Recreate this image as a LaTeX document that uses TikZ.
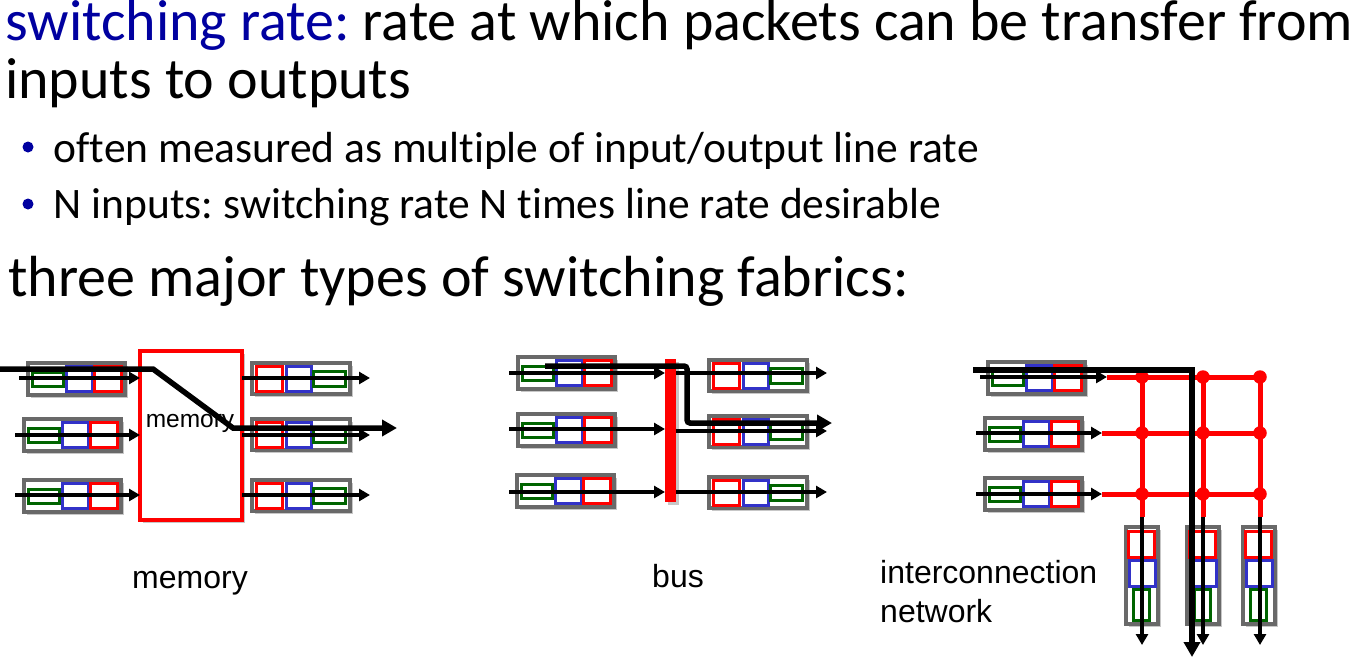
\documentclass[tikz,border=0pt]{standalone}
\usepackage{fontspec}
\setmainfont{Carlito}[Ligatures=CommonOff]
\newfontfamily\arialfont{Liberation Sans}
\usetikzlibrary{arrows.meta,shadows}
\frenchspacing

\definecolor{slideblue}{RGB}{0,0,160}
\definecolor{qgray}{RGB}{105,105,105}
\definecolor{cgreen}{RGB}{0,100,0}
\definecolor{cblue}{RGB}{50,50,200}
\definecolor{cred}{RGB}{255,0,0}

\tikzset{
  softshadow/.style={drop shadow={shadow xshift=2.5pt,shadow yshift=-2.5pt,opacity=0.22,fill=black}},
  qbox/.style={draw=qgray,line width=3.1pt,fill=white,inner sep=0pt,outer sep=0pt,softshadow},
  cellg/.style={draw=cgreen,line width=3pt},
  cellb/.style={draw=cblue,line width=3pt},
  cellr/.style={draw=cred,line width=3pt},
  flow/.style={line width=3.2pt,-{Triangle[length=11pt,width=12pt]}},
  bigflow/.style={line width=5.5pt,-{Triangle[length=15pt,width=16pt]}},
  gridline/.style={draw=cred,line width=5pt},
  joint/.style={circle,fill=cred,inner sep=0pt,minimum size=13.5pt},
  bigtext/.style={font=\fontsize{58}{60}\selectfont,inner sep=0pt,anchor=base west},
  subtext/.style={font=\fontsize{43.5}{46}\selectfont,inner sep=0pt,anchor=base west},
  lbl/.style={font=\arialfont\fontsize{32}{34}\selectfont,inner sep=0pt,anchor=base west},
  dot/.style={circle,fill=slideblue,inner sep=0pt,minimum size=11pt},
}

% input queue: green, blue, red cells (top-left corner given)
\newcommand\inqueue[3]{%
  \begin{scope}[shift={(#2,#3)}]
    \node[qbox,anchor=north west,minimum width=97pt,minimum height=32pt] (#1) at (0,0) {};
    \draw[cellg] (4,9) rectangle (35,23);
    \draw[cellb] (38,3) rectangle (64,28);
    \draw[cellr] (66,3) rectangle (93,28);
  \end{scope}}

% output queue: red, blue, green cells
\newcommand\outqueue[3]{%
  \begin{scope}[shift={(#2,#3)}]
    \node[qbox,anchor=north west,minimum width=98pt,minimum height=31pt] (#1) at (0,0) {};
    \draw[cellr] (4,3) rectangle (30,28);
    \draw[cellb] (34,3) rectangle (59,28);
    \draw[cellg] (61,8) rectangle (93,23);
  \end{scope}}

% vertical output queue of the crossbar
\newcommand\vqueue[3]{%
  \begin{scope}[shift={(#2,#3)}]
    \node[qbox,anchor=north west,minimum width=32pt,minimum height=97pt] (#1) at (0,0) {};
    \draw[cellr] (2,4) rectangle (28,30);
    \draw[cellb] (3,33) rectangle (29,59);
    \draw[cellg] (7,62) rectangle (23,93);
  \end{scope}}

\begin{document}
\begin{tikzpicture}[x=1pt,y=-1pt]
\useasboundingbox[fill=white] (0,0) rectangle (1368,661);

% ---- text ----
\node[bigtext] (t1) at (5,41) {\textcolor{slideblue}{switching rate:} rate at which packets can be transfer from};
\node[bigtext] (t2) at (5,99) {inputs to outputs};
\node[dot] (d1) at (28,147) {};
\node[subtext] (b1) at (53.5,162) {often measured as multiple of input/output line rate};
\node[dot] (d2) at (28,204) {};
\node[subtext] (b2) at (53.5,218) {N inputs: switching rate N times line rate desirable};
\node[bigtext] (t3) at (8,296) {three major types of switching fabrics:};

% ---- memory fabric ----
\inqueue{mi1}{28}{363}
\inqueue{mi2}{24}{419}
\inqueue{mi3}{24}{480}
\node[draw=cred,line width=4.5pt,fill=white,minimum width=102pt,minimum height=169pt,inner sep=0pt,outer sep=0pt,softshadow] (mem) at (191,435.5) {};
\node[font=\arialfont\fontsize{24.5}{26}\selectfont,inner sep=0pt,anchor=base] (memtxt) at (190,427) {memory};
\outqueue{mo1}{252}{363}
\outqueue{mo2}{252}{419}
\outqueue{mo3}{252}{480}

\coordinate (ma1) at (19,378);
\coordinate (ma2) at (15,435);
\coordinate (ma3) at (15,495);
\coordinate (mb1) at (370,378);
\coordinate (mb2) at (370,435);
\coordinate (mb3) at (370,495);
\foreach \i in {1,2,3}{
  \draw[flow] (ma\i) -- (ma\i -| mem.west);
  \draw[flow] (mem.east |- mb\i) -- (mb\i);
}
\coordinate (mp0) at (0,369);
\coordinate (mp1) at (153,369);
\coordinate (mp2) at (233,428);
\coordinate (mp3) at (397,428);
\draw[bigflow] (mp0) -- (mp1) -- (mp2) -- (mp3);
\node[lbl] (memlbl) at (132,588) {memory};

% ---- bus fabric ----
\inqueue{bi1}{518}{357}
\inqueue{bi2}{518}{414}
\inqueue{bi3}{517}{475}
\node[fill=cred,minimum width=11pt,minimum height=143pt,inner sep=0pt,outer sep=0pt,softshadow] (bus) at (670.5,430.5) {};
\outqueue{bo1}{709}{360}
\outqueue{bo2}{709}{416}
\outqueue{bo3}{709}{477}
\coordinate (ba1) at (509,373);
\coordinate (ba2) at (509,429);
\coordinate (ba3) at (509,492);
\coordinate (bb1) at (827,373);
\coordinate (bb2) at (827,431);
\coordinate (bb3) at (827,492);
\foreach \i in {1,2,3}{
  \draw[flow] (ba\i) -- (ba\i -| bus.west);
  \draw[flow] (bus.east |- bb\i) -- (bb\i);
}
\coordinate (bp0) at (545,366);
\coordinate (bp1) at (687,366);
\coordinate (bp2) at (687,423);
\coordinate (bp3) at (832,423);
\draw[bigflow,rounded corners=3pt] (bp0) -- (bp1) -- (bp2) -- (bp3);
\node[lbl] (buslbl) at (652,587) {bus};

% ---- crossbar fabric ----
\inqueue{xi1}{988}{362}
\inqueue{xi2}{985}{418}
\inqueue{xi3}{985}{478}
\vqueue{xo1}{1126}{527}
\vqueue{xo2}{1187}{527}
\vqueue{xo3}{1243}{527}

\coordinate (xs1) at (1107,377);
\coordinate (xs2) at (1102,433);
\coordinate (xs3) at (1102,494);
\foreach \r/\y in {1/377,2/433,3/494}{
  \foreach \c/\x in {1/1142,2/1203,3/1260}{
    \coordinate (j\r\c) at (\x,\y);
  }
}
\foreach \c/\x in {1/1142,2/1203,3/1260}{
  \coordinate (xe\c) at (\x,517);
  \coordinate (xf\c) at (\x,645);
}
% red crossbar wires, then the crosspoints on top
\foreach \r in {1,2,3}
  \draw[gridline] (xs\r) -- (j\r3);
\foreach \c in {1,2,3}
  \draw[gridline] (j1\c) -- (xe\c);
\foreach \r in {1,2,3}{
  \foreach \c in {1,2,3}{
    \node[joint] (cp\r\c) at (j\r\c) {};
  }
}
\coordinate (xa1) at (980,377);
\coordinate (xa2) at (976,433);
\coordinate (xa3) at (976,494);
\foreach \r in {1,2,3}
  \draw[flow] (xa\r) -- (xs\r);
\foreach \c in {1,2,3}
  \draw[flow] (xe\c) -- (xf\c);
\coordinate (xp0) at (973,370);
\coordinate (xp1) at (1192,370);
\coordinate (xp2) at (1192,657);
\draw[bigflow] (xp0) -- (xp1) -- (xp2);
\node[lbl] (xlbl1) at (880,583) {interconnection};
\node[lbl] (xlbl2) at (880,622) {network};
\end{tikzpicture}
\end{document}
